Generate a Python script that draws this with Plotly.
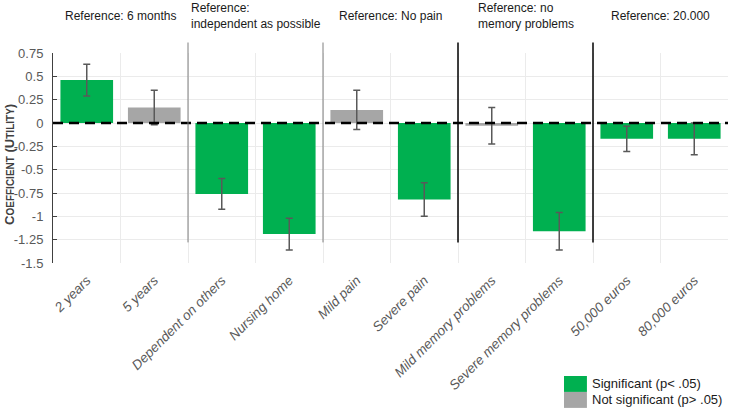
import plotly.graph_objects as go

categories = ["2 years", "5 years", "Dependent on others", "Nursing home", "Mild pain",
              "Severe pain", "Mild memory problems", "Severe memory problems",
              "50,000 euros", "80,000 euros"]
coefficients = [0.46, 0.165, -0.76, -1.19, 0.14, -0.82, -0.03, -1.16, -0.17, -0.17]
errors = [0.17, 0.185, 0.165, 0.17, 0.21, 0.18, 0.195, 0.2, 0.135, 0.17]
significant = [True, False, True, True, False, True, False, True, True, True]

group_titles = ["Reference: 6 months", "Reference:<br>independent as possible", "Reference: No pain",
                "Reference: no<br>memory problems", "Reference: 20.000"]
group_sizes = [2, 2, 2, 2, 2]
separator_dark = [False, False, True, True]

ytick_vals = [0.75, 0.5, 0.25, 0, -0.25, -0.5, -0.75, -1, -1.25, -1.5]
ytick_text = ["0.75", "0.5", "0.25", "0", "-0.25", "-0.5", "-0.75", "-1", "-1.25", "-1.5"]

y_title = "<b>C<span style='font-size:10px'>OEFFICIENT</span> (U<span style='font-size:10px'>TILITY</span>)</b>"
legend_labels = ["Significant (p< .05)", "Not significant (p> .05)"]

GREEN = "#00B050"
GREY = "#A6A6A6"
colors = [GREEN if s else GREY for s in significant]
FONT = "Liberation Sans, Arial"

fig = go.Figure()
fig.add_trace(go.Bar(
    x=categories, y=coefficients,
    marker=dict(color=colors, line=dict(width=0)),
    error_y=dict(type="data", array=errors, color="#595959", thickness=1.5, width=3.5),
    showlegend=False,
))

shapes = []
annotations = []

# dashed zero line
shapes.append(dict(type="line", xref="paper", yref="y", x0=0, x1=1, y0=0, y1=0,
                   line=dict(color="black", width=2.5, dash="10px,6px"), layer="above"))

# group separators and titles
start = 0
for gi, size in enumerate(group_sizes):
    center = start + (size - 1) / 2
    annotations.append(dict(x=center, xref="x", y=1.176, yref="paper", text=group_titles[gi],
                            showarrow=False, xanchor="center", yanchor="middle", align="left",
                            font=dict(family=FONT, size=12, color="#1a1a1a")))
    end = start + size
    if gi < len(group_sizes) - 1:
        dark = separator_dark[gi]
        shapes.append(dict(type="line", xref="x", yref="paper", x0=end - 0.5, x1=end - 0.5,
                           y0=1.05, y1=0.098,
                           line=dict(color="black" if dark else "#7f7f7f", width=1.5 if dark else 1)))
    start = end

# y axis title
annotations.append(dict(x=-0.0637, xref="paper", y=0.467, yref="paper", text=y_title,
                        textangle=-90, showarrow=False, xanchor="center", yanchor="middle",
                        font=dict(family=FONT, size=13, color="#404040")))

# custom legend
legend_colors = [GREEN, GREY]
for i, (lab, col) in enumerate(zip(legend_labels, legend_colors)):
    y_top = -0.538 - i * 0.076
    shapes.append(dict(type="rect", xref="paper", yref="paper", x0=0.757, x1=0.791,
                       y0=y_top - 0.076, y1=y_top, fillcolor=col, line=dict(width=0)))
    annotations.append(dict(x=0.796, xref="paper", y=y_top - 0.038, yref="paper", text=lab,
                            showarrow=False, xanchor="left", yanchor="middle",
                            font=dict(family=FONT, size=13, color="#1a1a1a")))

fig.update_layout(
    width=733, height=412,
    margin=dict(l=53, r=5, t=53, b=149, autoexpand=False),
    paper_bgcolor="white", plot_bgcolor="white",
    bargap=0.22,
    shapes=shapes, annotations=annotations,
    font=dict(family=FONT, color="#595959"),
    xaxis=dict(
        type="category", tickangle=-45, tickson="boundaries", showgrid=True,
        gridcolor="#ebebeb", gridwidth=1, showline=False, ticks="",
        ticklabelstandoff=6,
        tickfont=dict(family=FONT, size=13.5, color="#595959", style="italic"),
        range=[-0.5, 9.5],
    ),
    yaxis=dict(
        range=[-1.5, 0.75], tickvals=ytick_vals, ticktext=ytick_text,
        showgrid=True, gridcolor="#ebebeb", gridwidth=1, zeroline=False,
        showline=True, linecolor="#404040", linewidth=1, ticks="inside", ticklen=4,
        tickcolor="#404040", ticklabelstandoff=6,
        tickfont=dict(family=FONT, size=13, color="#595959"),
    ),
)

fig.write_html("out.html")
